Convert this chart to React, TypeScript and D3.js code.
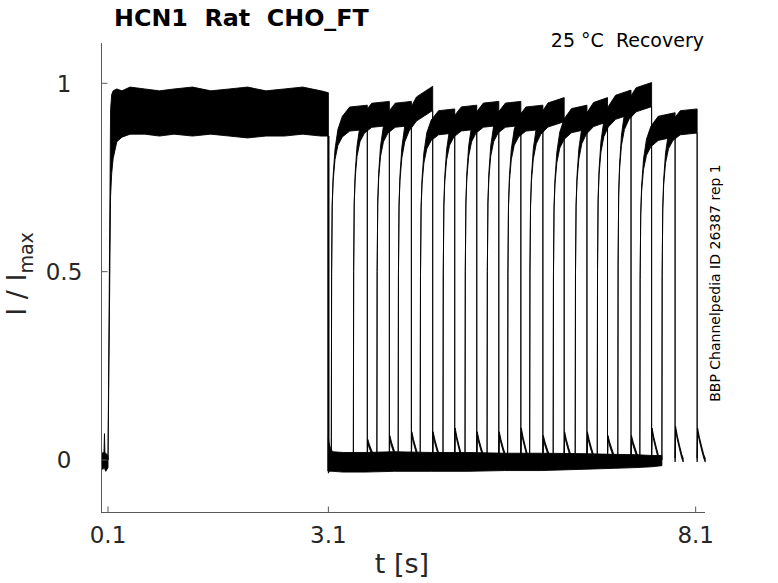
import React from "react";
import * as d3 from "d3";

// ---- data (t in s, I/Imax) ----

// baseline before the activating step
const preT = [0.012, 0.03, 0.045, 0.052, 0.058, 0.07, 0.085, 0.1];
const preLo = [-0.02, -0.025, -0.02, -0.02, -0.025, -0.03, -0.025, -0.02];
const preHi = [0.015, 0.02, 0.02, 0.07, 0.02, 0.018, 0.015, 0.01];

// activation (all traces overlaid) 0.1 .. 3.1 s
const actT = [0.1, 0.135, 0.15, 0.17, 0.22, 0.29, 0.4, 0.6, 0.8, 1.0, 1.25, 1.5, 1.75, 2.0, 2.25, 2.5, 2.75, 3.0, 3.1];
const actLo = [0, 0.7, 0.76, 0.8, 0.845, 0.857, 0.865, 0.865, 0.86, 0.865, 0.86, 0.865, 0.86, 0.855, 0.86, 0.86, 0.865, 0.86, 0.86];
const actHi = [0, 0.93, 0.97, 0.98, 0.985, 0.98, 0.99, 0.985, 0.98, 0.985, 0.99, 0.98, 0.985, 0.99, 0.98, 0.985, 0.99, 0.98, 0.975];

// deactivated (zero) band after 3.1 s
const zeroT = [3.1, 3.11, 3.13, 3.16, 3.3, 3.6, 4.0, 4.5, 5.0, 5.5, 6.0, 6.5, 7.0, 7.3, 7.5, 7.64];
const zeroLo = [-0.035, -0.03, -0.03, -0.03, -0.032, -0.032, -0.03, -0.03, -0.03, -0.028, -0.028, -0.025, -0.022, -0.02, -0.018, -0.015];
const zeroHi = [0.06, 0.045, 0.03, 0.022, 0.02, 0.02, 0.022, 0.02, 0.02, 0.018, 0.018, 0.017, 0.015, 0.014, 0.012, 0.012];

// recovery test pulses, one per trace
const recStart = [3.14, 3.44, 3.76, 4.05, 4.35, 4.66, 4.96, 5.26, 5.54, 5.84, 6.16, 6.46, 6.76, 7.04, 7.34, 7.64];
const recEnd = [3.63, 3.93, 4.23, 4.52, 4.82, 5.12, 5.42, 5.72, 6.02, 6.31, 6.62, 6.9, 7.22, 7.5, 7.82, 8.12];
const levelStart = [0.9, 0.91, 0.91, 0.9, 0.89, 0.9, 0.91, 0.91, 0.9, 0.9, 0.89, 0.9, 0.92, 0.94, 0.87, 0.89];
const levelEnd = [0.91, 0.92, 0.92, 0.96, 0.9, 0.91, 0.92, 0.92, 0.91, 0.93, 0.91, 0.93, 0.95, 0.97, 0.89, 0.9];
const tailPeak = [0.05, 0.06, 0.07, 0.07, 0.08, 0.07, 0.07, 0.08, 0.06, 0.07, 0.07, 0.06, 0.06, 0.08, 0.085, 0.08];

// shape of the recovery rise and of the tail after each pulse
const riseDt = [0, 0.004, 0.012, 0.025, 0.05, 0.09, 0.15, 0.25];
const riseFrac = [0, 0.55, 0.75, 0.83, 0.9, 0.95, 0.98, 1];
const tailDt = [0, 0.006, 0.03, 0.06, 0.09, 0.11];
const tailFrac = [0, 1, 0.7, 0.4, 0.12, 0];

const xTicks = [0.1, 3.1, 8.1];
const yTicks = [0, 0.5, 1];

interface P {
  t: number;
  lo: number;
  hi: number;
}

const band = (t: number[], lo: number[], hi: number[]): P[] =>
  t.map((tt, i) => ({ t: tt, lo: lo[i], hi: hi[i] }));

const App: React.FC = () => {
  const x = d3.scaleLinear().domain([0.0115, 8.227]).range([101.5, 705]);
  const y = d3.scaleLinear().domain([-0.138, 1.107]).range([512, 43]);

  const area = d3
    .area<P>()
    .x((d) => x(d.t))
    .y0((d) => y(d.lo))
    .y1((d) => y(d.hi));

  const w = 0.032;
  const traces = recStart.map((r, k) => {
    const e = recEnd[k];
    const lv = (t: number) =>
      levelStart[k] + ((levelEnd[k] - levelStart[k]) * (t - r)) / (e - r);
    const pts: P[] = [];
    riseDt.forEach((dt, i) => {
      if (r + dt >= e) return;
      const L = riseFrac[i] * lv(r + dt);
      // noise band only opens up once the current is near its plateau
      const hw = w * Math.pow(riseFrac[i], 8);
      pts.push({ t: r + dt, lo: L - hw, hi: L + hw });
    });
    pts.push({ t: e, lo: levelEnd[k] - w, hi: levelEnd[k] + w });
    tailDt.forEach((dt, i) => {
      const v = tailFrac[i] * tailPeak[k];
      pts.push({ t: e + dt, lo: v - 0.005, hi: v + 0.005 });
    });
    return pts;
  });

  const font = "'DejaVu Sans', sans-serif";
  const axisColor = "#5a5a5a";
  const textColor = "#262626";

  return (
    <svg
      width={778}
      height={583}
      style={{ position: "absolute", left: 0, top: 0, background: "#fff" }}
      fontFamily={font}
    >
      <g fill="#000" stroke="#000" strokeWidth={0.9} strokeLinejoin="round">
        <path d={area(band(preT, preLo, preHi)) || ""} />
        <path d={area(band(actT, actLo, actHi)) || ""} />
        <path d={area(band(zeroT, zeroLo, zeroHi)) || ""} />
        {traces.map((pts, k) => (
          <path key={k} d={area(pts) || ""} />
        ))}
      </g>
      {/* common drop at the end of the activating step */}
      <line
        x1={x(3.1)}
        x2={x(3.1)}
        y1={y(actLo[actLo.length - 1])}
        y2={y(-0.03)}
        stroke="#000"
        strokeWidth={2.2}
      />

      {/* axes */}
      <g stroke={axisColor} strokeWidth={1} fill="none">
        <line x1={101.5} x2={101.5} y1={43} y2={512.5} />
        <line x1={101} x2={705} y1={512.5} y2={512.5} />
        {xTicks.map((v) => (
          <line key={v} x1={x(v)} x2={x(v)} y1={512.5} y2={506.5} />
        ))}
        {yTicks.map((v) => (
          <line key={v} x1={101.5} x2={107.5} y1={y(v)} y2={y(v)} />
        ))}
      </g>
      <g fill={textColor} fontSize={23}>
        {xTicks.map((v) => (
          <text key={v} x={x(v)} y={543} textAnchor="middle">
            {v}
          </text>
        ))}
        {yTicks.map((v) => (
          <text key={v} x={64} y={y(v) + 8.3} textAnchor="middle">
            {v}
          </text>
        ))}
      </g>
      <text x={402} y={573} textAnchor="middle" fontSize={27} fill={textColor}>
        t [s]
      </text>
      <text
        transform="translate(26,274) rotate(-90)"
        textAnchor="middle"
        fontSize={27}
        fill={textColor}
      >
        I / I
        <tspan fontSize={19} dy={7}>
          max
        </tspan>
      </text>
      <text
        x={114}
        y={26}
        fontSize={23.8}
        fontWeight="bold"
        fill="#000"
        style={{ whiteSpace: "pre" }}
      >
        {"HCN1  Rat  CHO_FT"}
      </text>
      <text
        x={704}
        y={47}
        fontSize={19}
        textAnchor="end"
        fill="#000"
        style={{ whiteSpace: "pre" }}
      >
        {"25 °C  Recovery"}
      </text>
      <text
        transform="translate(719.5,283) rotate(-90)"
        textAnchor="middle"
        fontSize={14}
        fill="#000"
      >
        BBP Channelpedia ID 26387 rep 1
      </text>
    </svg>
  );
};

export default App;
